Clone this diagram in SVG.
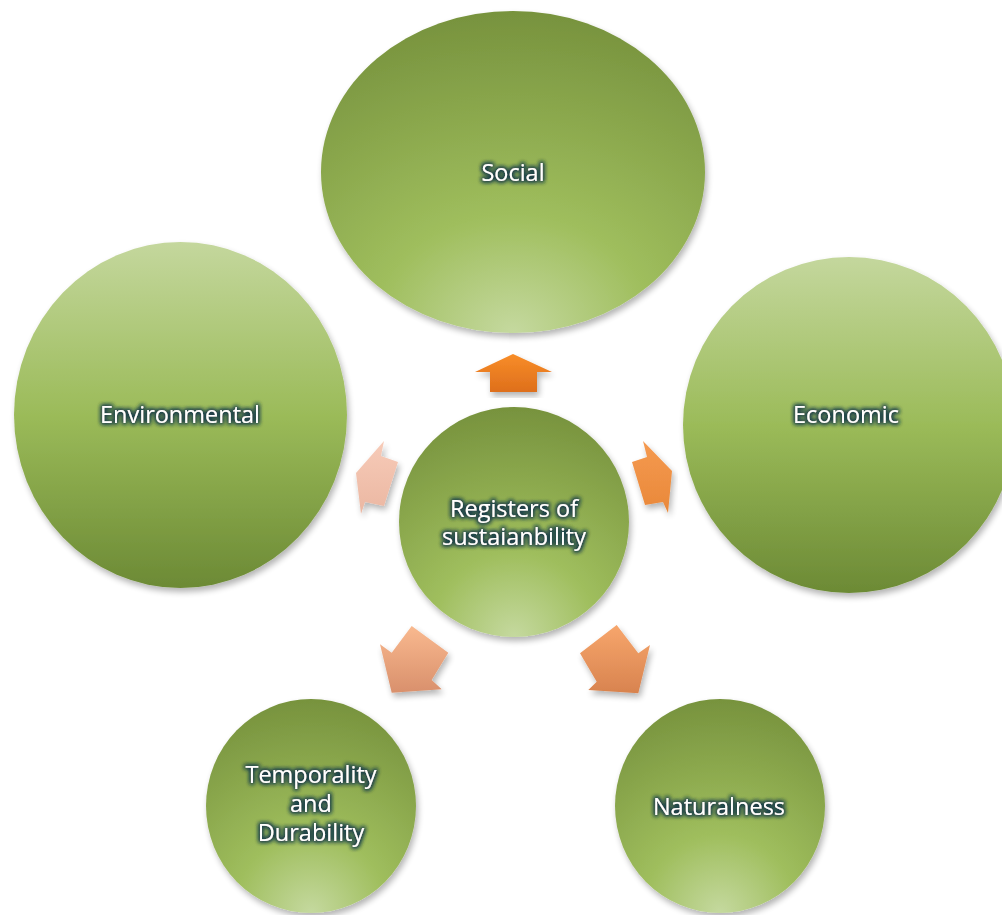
<svg xmlns="http://www.w3.org/2000/svg" width="1002" height="915" viewBox="0 0 1002 915">
  <defs>
    <!-- node fills: dark top, light bottom glow -->
    <radialGradient id="gDown" cx="0.5" cy="1" r="1.05" fx="0.5" fy="1">
      <stop offset="0" stop-color="#c5d99f"/>
      <stop offset="0.35" stop-color="#9fbe5d"/>
      <stop offset="1" stop-color="#748f3b"/>
    </radialGradient>
    <!-- node fills: light top, dark bottom -->
    <linearGradient id="gUp" x1="0" y1="0" x2="0" y2="1">
      <stop offset="0" stop-color="#c4d79d"/>
      <stop offset="0.5" stop-color="#9bbb59"/>
      <stop offset="1" stop-color="#6c8a35"/>
    </linearGradient>
    <linearGradient id="a0" x1="0" y1="0" x2="0" y2="1">
      <stop offset="0" stop-color="#f88d28"/>
      <stop offset="1" stop-color="#de6f1c"/>
    </linearGradient>
    <linearGradient id="a1" x1="0" y1="0" x2="0" y2="1">
      <stop offset="0" stop-color="#f59a50"/>
      <stop offset="1" stop-color="#e98839"/>
    </linearGradient>
    <linearGradient id="a2" x1="0" y1="0" x2="0" y2="1">
      <stop offset="0" stop-color="#f7a66c"/>
      <stop offset="1" stop-color="#d8834f"/>
    </linearGradient>
    <linearGradient id="a3" x1="0" y1="0" x2="0" y2="1">
      <stop offset="0" stop-color="#f9b98f"/>
      <stop offset="1" stop-color="#d9906c"/>
    </linearGradient>
    <linearGradient id="a4" x1="0" y1="0" x2="0" y2="1">
      <stop offset="0" stop-color="#f7cbb8"/>
      <stop offset="1" stop-color="#ebb7a2"/>
    </linearGradient>
    <filter id="shadow" x="-10%" y="-10%" width="125%" height="125%">
      <feGaussianBlur in="SourceAlpha" stdDeviation="3"/>
      <feOffset dx="2" dy="4" result="b"/>
      <feComponentTransfer><feFuncA type="linear" slope="0.3"/></feComponentTransfer>
      <feMerge><feMergeNode/><feMergeNode in="SourceGraphic"/></feMerge>
    </filter>
    <!-- soft dark halo behind white labels -->
    <filter id="glow" x="-20%" y="-40%" width="140%" height="180%">
      <feMorphology in="SourceAlpha" operator="dilate" radius="1.2" result="d"/>
      <feGaussianBlur in="d" stdDeviation="2.2" result="bl"/>
      <feFlood flood-color="#1e3f4a" flood-opacity="0.95"/>
      <feComposite in2="bl" operator="in" result="g"/>
      <feMerge><feMergeNode in="g"/><feMergeNode in="g"/><feMergeNode in="SourceGraphic"/></feMerge>
    </filter>
    <style>
      .lbl { font-family: "Open Sans", "Liberation Sans", sans-serif; font-size: 23.5px; fill: #ffffff; text-anchor: middle; filter: url(#glow); }
      .node { filter: url(#shadow); }
      .arrow { filter: url(#shadow); }
    </style>
  </defs>

  <rect width="1002" height="915" fill="#ffffff"/>

  <!-- connectors: block arrows radiating from the hub -->
  <g id="connectors">
    <polygon class="arrow" fill="url(#a0)" points="513,354 552,372 537,372 537,392 490,392 490,372 475,372"/>
    <polygon class="arrow" fill="url(#a1)" points="672,471 668,513 663,502 645,505 632,462 647,457 643,441"/>
    <polygon class="arrow" fill="url(#a2)" points="616.7,625 638.3,653.3 650,645 638.3,693.3 588.3,690 596.7,681.7 580,653.3"/>
    <polygon class="arrow" fill="url(#a3)" points="411.7,626 448.3,652.7 431.7,680 441.7,689.3 391.7,692.7 380,644.3 391.7,652.7"/>
    <polygon class="arrow" fill="url(#a4)" points="356,473 384,441 381,456 398,462 384,506 365,502 361,514"/>
  </g>

  <g id="node-social" class="node">
    <ellipse cx="513" cy="172" rx="192" ry="161" fill="url(#gDown)"/>
    <text class="lbl" x="513" y="181">Social</text>
  </g>

  <g id="node-environmental" class="node">
    <ellipse cx="180.5" cy="415" rx="166.5" ry="173" fill="url(#gUp)"/>
    <text class="lbl" x="180" y="423">Environmental</text>
  </g>

  <g id="node-economic" class="node">
    <ellipse cx="849" cy="425" rx="166" ry="168" fill="url(#gUp)"/>
    <text class="lbl" x="846" y="423">Economic</text>
  </g>

  <g id="node-hub" class="node">
    <circle cx="514" cy="522" r="115" fill="url(#gDown)"/>
    <text class="lbl" x="514" y="517">Registers of<tspan x="514" dy="28">sustaianbility</tspan></text>
  </g>

  <g id="node-temporality" class="node">
    <ellipse cx="311" cy="806" rx="105" ry="107" fill="url(#gDown)"/>
    <text class="lbl" x="311" y="783">Temporality<tspan x="311" dy="29">and</tspan><tspan x="311" dy="29">Durability</tspan></text>
  </g>

  <g id="node-naturalness" class="node">
    <ellipse cx="720" cy="806" rx="105" ry="107" fill="url(#gDown)"/>
    <text class="lbl" x="719" y="815">Naturalness</text>
  </g>
</svg>
